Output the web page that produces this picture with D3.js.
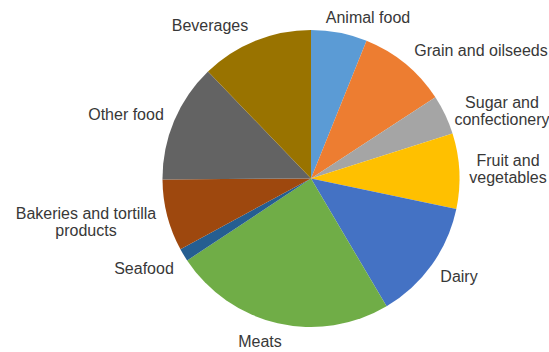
<!DOCTYPE html>
<html>
<head>
<meta charset="utf-8">
<script src="https://cdn.jsdelivr.net/npm/d3@7"></script>
<style>
  html, body { margin: 0; padding: 0; background: #fff; }
  svg { display: block; }
  text { font-family: "Liberation Sans", Arial, sans-serif; font-size: 16px; fill: #383838; }
</style>
</head>
<body>
<svg id="chart" width="549" height="352"></svg>
<script>
// Share of food manufacturing by sector (percent)
const categories = [
  "Animal food", "Grain and oilseeds", "Sugar and confectionery",
  "Fruit and vegetables", "Dairy", "Meats", "Seafood",
  "Bakeries and tortilla products", "Other food", "Beverages"
];
const shares = [6.1, 9.7, 4.3, 8.2, 13.2, 24.2, 1.4, 7.8, 12.9, 12.2];

// Slice colours
const colors = [
  "#5B9BD5", "#ED7D31", "#A5A5A5", "#FFC000", "#4472C4",
  "#70AD47", "#255E91", "#9E480E", "#636363", "#997300"
];

// Label text lines and their centre positions around the pie
const labelLines = [
  ["Animal food"], ["Grain and oilseeds"], ["Sugar and", "confectionery"],
  ["Fruit and", "vegetables"], ["Dairy"], ["Meats"], ["Seafood"],
  ["Bakeries and tortilla", "products"], ["Other food"], ["Beverages"]
];
const labelPos = [
  [368, 17], [481, 50], [502, 111], [508, 169], [459, 276],
  [260, 341], [144, 268], [86, 222], [126, 114], [210, 25]
];

const svg = d3.select("#chart");
const cx = 311, cy = 178.5, radius = 148.5;
const lineHeight = 16.5;

const pie = d3.pie().sort(null).value(d => d.value);
const arc = d3.arc().innerRadius(0).outerRadius(radius);

const data = categories.map((c, i) => ({ name: c, value: shares[i], color: colors[i] }));

const g = svg.append("g").attr("transform", `translate(${cx},${cy})`);

g.selectAll("path")
  .data(pie(data))
  .join("path")
  .attr("d", arc)
  .attr("fill", d => d.data.color);

const labels = svg.append("g");
labelLines.forEach((lines, i) => {
  const [x, y] = labelPos[i];
  const top = y - (lines.length - 1) * lineHeight / 2;
  const t = labels.append("text").attr("text-anchor", "middle");
  lines.forEach((ln, j) => {
    t.append("tspan")
      .attr("x", x)
      .attr("y", top + j * lineHeight)
      .attr("dy", "0.35em")
      .text(ln);
  });
});
</script>
</body>
</html>
